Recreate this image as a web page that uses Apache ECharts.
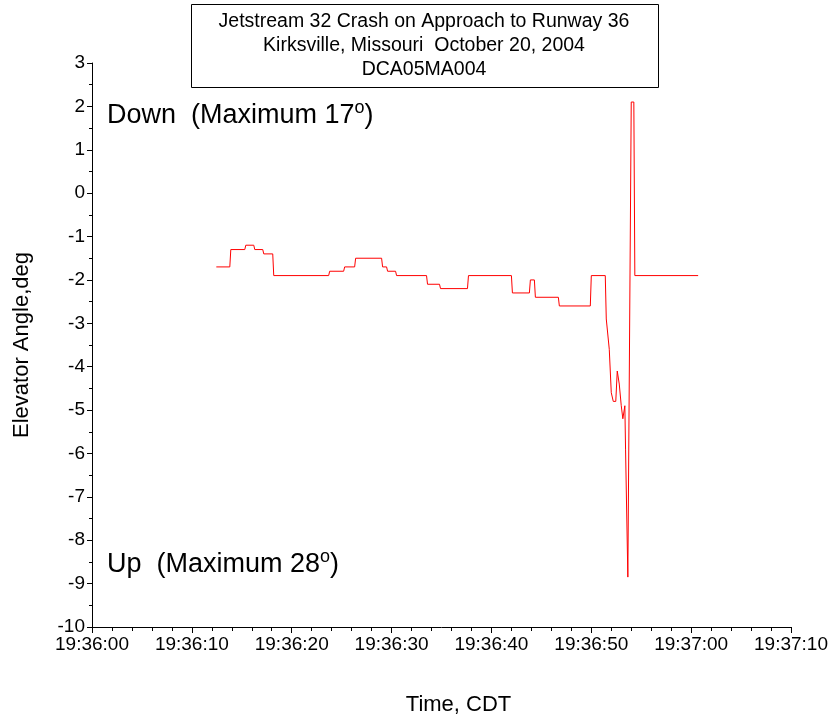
<!DOCTYPE html>
<html>
<head>
<meta charset="utf-8">
<script src="https://cdn.jsdelivr.net/npm/echarts@6/dist/echarts.min.js"></script>
<style>
html,body{margin:0;padding:0;background:#fff;}
#chart{width:831px;height:721px;}
</style>
</head>
<body>
<div id="chart"></div>
<script>
// Seconds after 19:36:00 (CDT)
var timeSec = [12.45,13.8,13.9,15.3,15.4,16.2,16.3,17.1,17.2,18.1,18.2,23.7,23.8,25.2,25.3,26.3,26.4,29.0,29.1,29.5,29.6,30.4,30.5,33.5,33.6,34.8,34.9,37.6,37.7,42.0,42.1,43.8,43.9,44.3,44.4,46.7,46.8,49.9,50.0,51.4,51.5,51.7,51.8,51.9,52.0,52.1,52.2,52.45,52.6,52.8,53.0,53.16,53.36,53.43,53.46,53.6,53.66,53.86,54.0,54.26,54.36,60.7];
// Elevator angle, deg
var elevator = [-1.7,-1.7,-1.3,-1.3,-1.2,-1.2,-1.3,-1.3,-1.4,-1.4,-1.9,-1.9,-1.8,-1.8,-1.7,-1.7,-1.5,-1.5,-1.7,-1.7,-1.8,-1.8,-1.9,-1.9,-2.1,-2.1,-2.2,-2.2,-1.9,-1.9,-2.3,-2.3,-2.0,-2.0,-2.4,-2.4,-2.6,-2.6,-1.9,-1.9,-2.9,-2.9,-3.6,-3.6,-4.6,-4.6,-4.8,-4.8,-4.1,-4.4,-4.9,-5.2,-4.9,-5.9,-5.9,-5.9,-8.85,-8.85,2.1,2.1,-1.9,-1.9];
var xTickLabels = ['19:36:00','19:36:10','19:36:20','19:36:30','19:36:40','19:36:50','19:37:00','19:37:10'];
var titleLines = ['Jetstream 32 Crash on Approach to Runway 36','Kirksville, Missouri  October 20, 2004','DCA05MA004'];
var xName = 'Time, CDT';
var yName = 'Elevator Angle,deg';

var FONT = "'Liberation Sans', Arial, sans-serif";
var points = timeSec.map(function (t, i) { return [t, elevator[i]]; });

var chart = echarts.init(document.getElementById('chart'), null, {renderer: 'canvas'});
chart.setOption({
  animation: false,
  backgroundColor: '#ffffff',
  textStyle: {fontFamily: FONT},
  grid: {left: 92, right: 38, top: 63, bottom: 93, containLabel: false},
  xAxis: {
    type: 'value', min: 0, max: 70, interval: 10,
    name: xName, nameLocation: 'middle', nameGap: 67,
    nameTextStyle: {fontSize: 22, color: '#000', fontFamily: FONT, padding: [0, 0, 0, 34]},
    axisLine: {show: true, onZero: false, lineStyle: {color: '#000', width: 1}},
    axisTick: {show: true, inside: false, length: 6, lineStyle: {color: '#000'}},
    minorTick: {show: true, splitNumber: 5, length: 4, lineStyle: {color: '#000'}},
    splitLine: {show: false},
    axisLabel: {
      fontSize: 19, color: '#000', margin: 8, fontFamily: FONT,
      formatter: function (v) { return xTickLabels[Math.round(v / 10)] || ''; }
    }
  },
  yAxis: {
    type: 'value', min: -10, max: 3, interval: 1,
    name: yName, nameLocation: 'middle', nameRotate: 90, nameGap: 59,
    nameTextStyle: {fontSize: 22, color: '#000', fontFamily: FONT, padding: [0, 0, 0, 0]},
    axisLine: {show: true, onZero: false, lineStyle: {color: '#000', width: 1}},
    axisTick: {show: true, inside: false, length: 5, lineStyle: {color: '#000'}},
    minorTick: {show: true, splitNumber: 2, length: 3, lineStyle: {color: '#000'}},
    splitLine: {show: false},
    axisLabel: {fontSize: 19, color: '#000', margin: 7, fontFamily: FONT}
  },
  series: [{
    type: 'line',
    data: points,
    showSymbol: false,
    lineStyle: {color: '#ff0000', width: 1},
    itemStyle: {color: '#ff0000'}
  }],
  graphic: [
    {
      type: 'rect', left: 191, top: 4, z: 10,
      shape: {width: 467, height: 83},
      style: {fill: '#fff', stroke: '#000', lineWidth: 1}
    },
    {
      type: 'text', x: 424, y: 9, z: 11,
      style: {
        text: titleLines.join('\n'), fontSize: 19.5, lineHeight: 24.4,
        fontFamily: FONT, fill: '#000', align: 'center', verticalAlign: 'top'
      }
    },
    {
      type: 'text', x: 107, y: 99, z: 11,
      style: {
        text: '{a|Down  (Maximum 17}{s|o}{a|)}',
        fontFamily: FONT, fill: '#000', verticalAlign: 'top',
        rich: {
          a: {fontSize: 27, fontFamily: FONT, color: '#000', lineHeight: 30, verticalAlign: 'bottom'},
          s: {fontSize: 18, fontFamily: FONT, color: '#000', lineHeight: 30, verticalAlign: 'top'}
        }
      }
    },
    {
      type: 'text', x: 107, y: 548, z: 11,
      style: {
        text: '{a|Up  (Maximum 28}{s|o}{a|)}',
        fontFamily: FONT, fill: '#000', verticalAlign: 'top',
        rich: {
          a: {fontSize: 27, fontFamily: FONT, color: '#000', lineHeight: 30, verticalAlign: 'bottom'},
          s: {fontSize: 18, fontFamily: FONT, color: '#000', lineHeight: 30, verticalAlign: 'top'}
        }
      }
    }
  ]
});
</script>
</body>
</html>
